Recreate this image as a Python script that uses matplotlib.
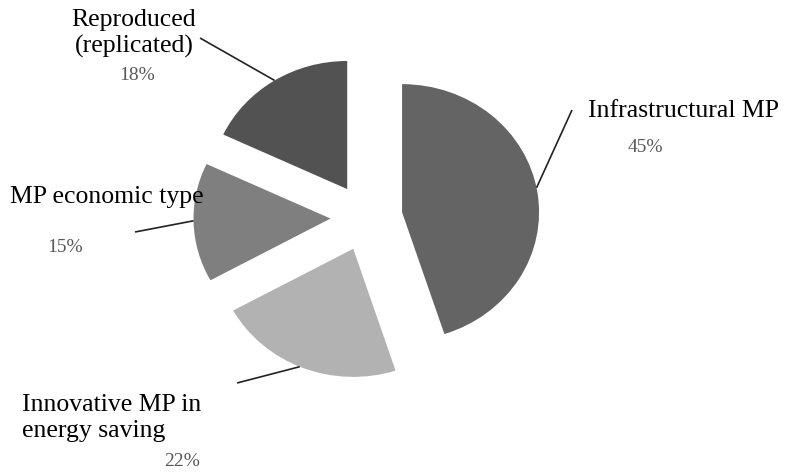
import matplotlib
matplotlib.use("Agg")
import matplotlib.pyplot as plt
import numpy as np

plt.rcParams['font.family'] = ['Liberation Serif', 'DejaVu Serif']

# data
labels = ["Infrastructural MP", "Innovative MP in\nenergy saving",
          "MP economic type", "Reproduced\n(replicated)"]
shares = [45, 22, 15, 18]
colors = ["#646464", "#b2b2b2", "#7f7f7f", "#525252"]

W, H = 788, 472
K = 0.935  # pie is slightly squashed vertically in the reference

def px(x, y):
    # picture pixels (y down) -> data units (y up, squashed)
    return x, (H - y) / K

fig = plt.figure(figsize=(7.88, 4.72), dpi=100)
ax = fig.add_axes([0, 0, 1, 1])

wedges, _ = ax.pie(shares, colors=colors, startangle=90, counterclock=False,
                   explode=[36] * len(shares), radius=137, center=px(366.5, 217.5),
                   wedgeprops=dict(linewidth=0))
ax.set_aspect('auto')
ax.set_xlim(0, W)
ax.set_ylim(0, H / K)
ax.axis('off')

# label layout: name pos (baseline of last line), pct pos, leader angle, leader end
name_pos = [(588, 117, 'left'), (22, 437, 'left'), (10, 203, 'left'), (134, 53, 'center')]
pct_pos = [(645, 148), (182, 461), (65, 248), (137, 76)]
lead_ang = [11, -113, 181, 122]
lead_end = [(572, 110), (237, 383), (135, 232), (200, 38)]

for w, name, (lx, ly, ha), (qx, qy), a, (ex, ey), v in zip(
        wedges, labels, name_pos, pct_pos, lead_ang, lead_end, shares):
    wx, wy = w.center
    sx = wx + w.r * np.cos(np.radians(a))
    sy = wy + w.r * np.sin(np.radians(a))
    ex, ey = px(ex, ey)
    ax.plot([sx, ex], [sy, ey], color='#222222', lw=1.2, solid_capstyle='butt')
    ax.text(*px(lx, ly), name, ha=ha, va='baseline', fontsize=18.5,
            color='black', linespacing=1.22)
    ax.text(*px(qx, qy), f"{v}%", ha='center', va='center', fontsize=14,
            color='#595959')

fig.savefig("out.png", dpi=100)
